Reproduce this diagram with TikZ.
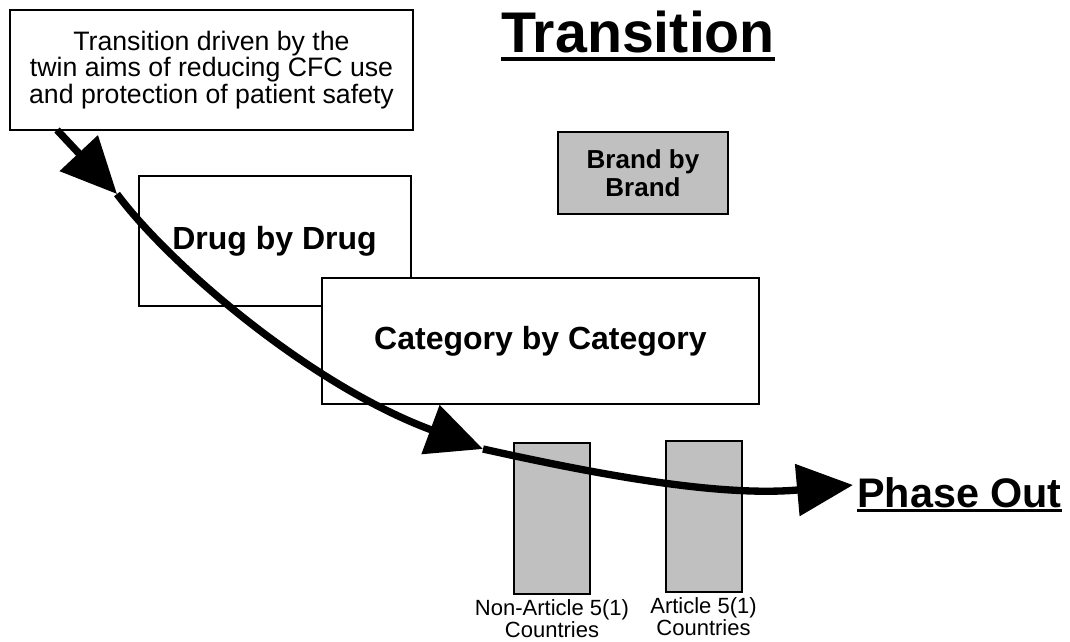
\documentclass[tikz,border=0pt]{standalone}
\usepackage{fontspec}
\setmainfont{Liberation Sans}
\usetikzlibrary{arrows.meta, positioning}

\definecolor{barGrey}{RGB}{192,192,192}
% text with a thick rule under it: #1 text, #2 rule depth, #3 rule thickness
\newcommand{\ultext}[3]{\setbox0\hbox{#1}\leavevmode\rlap{\rule[-#2]{\wd0}{#3}}\box0}

\begin{document}
\begin{tikzpicture}[x=0.75pt,y=-0.75pt,
  box/.style={rectangle,draw=black,line width=1.5pt,fill=white,inner sep=0pt,outer sep=0pt,align=center},
  greybox/.style={box,fill=barGrey},
  note/.style={font=\fontsize{20}{18}\selectfont},
  big/.style={font=\bfseries\fontsize{24}{28}\selectfont},
  mid/.style={font=\bfseries\fontsize{19.5}{21}\selectfont},
  cntry/.style={align=center,inner sep=0pt,font=\fontsize{16.5}{16.5}\selectfont},
  flow/.style={line width=5.5pt,-{Triangle[length=42pt,width=38pt]}}
]
  \useasboundingbox (0,0) rectangle (1070,642);

  % boxes
  \node[box,note,minimum width=302.25pt,minimum height=90pt](aims) at (211.5,70)
    {Transition driven by the\\twin aims of reducing CFC use\\and protection of patient safety};
  \node[box,big,minimum width=204pt,minimum height=97.5pt](drug) at (274.5,241) {Drug by Drug};
  \node[box,big,minimum width=327.75pt,minimum height=94.5pt](cat) at (540.5,341) {Category by Category};
  \node[greybox,mid,minimum width=127.5pt,minimum height=61.5pt](brand) at (643,173) {Brand by\\Brand};

  % country bars
  \node[greybox,minimum width=57pt,minimum height=113.25pt](nonart) at (552,518.5) {};
  \node[greybox,minimum width=57pt,minimum height=113.25pt](art) at (703.5,516.5) {};
  \node[cntry,below=4pt of nonart](nonlbl) {Non-Article 5(1)\\Countries};
  \node[cntry,below=4pt of art](artlbl) {Article 5(1)\\Countries};

  % headings
  \node[inner sep=0pt,font=\bfseries\fontsize{43}{43}\selectfont](title) at (638,36)
    {\ultext{Transition}{7pt}{3pt}};
  \node[inner sep=0pt,anchor=west,font=\bfseries\fontsize{31}{31}\selectfont](phase) at (857,495)
    {\ultext{Phase Out}{3pt}{2.5pt}};

  % the transition path
  \coordinate (s0) at (57,130);
  \coordinate (t1) at (117,194);
  \coordinate (t2) at (483,449);
  \coordinate (t3) at (853,485);
  \draw[flow] (s0) -- (t1);
  \draw[flow] (t1) .. controls (170,265) and (310,385) .. (t2);
  \draw[flow] (t2) .. controls (600,475) and (720,497) .. (t3);
\end{tikzpicture}
\end{document}
